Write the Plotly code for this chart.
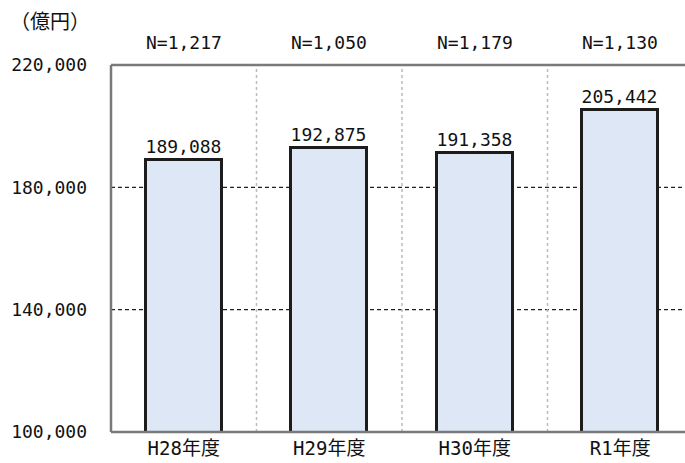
import plotly.graph_objects as go

# Fiscal years, totals (100 million yen) and respondent counts
years = ["H28年度", "H29年度", "H30年度", "R1年度"]
totals = [189088, 192875, 191358, 205442]
n_labels = ["N=1,217", "N=1,050", "N=1,179", "N=1,130"]
y_ticks = [100000, 140000, 180000, 220000]
y_tick_text = ["100,000", "140,000", "180,000", "220,000"]

mono = "DejaVu Sans Mono, Noto Sans CJK JP, sans-serif"

fig = go.Figure()
fig.add_trace(go.Bar(
    x=list(range(len(years))),
    y=totals,
    width=0.52,
    marker=dict(color="#dde7f5", line=dict(color="#1c1c1c", width=3)),
    texttemplate="%{y:,d}",
    textposition="outside",
    textfont=dict(family=mono, size=18, color="#111111"),
    cliponaxis=False,
))

shapes = []
# dashed horizontal guides at interior ticks
for t in y_ticks[1:-1]:
    shapes.append(dict(type="line", xref="paper", yref="y", x0=0, x1=1, y0=t, y1=t,
                       line=dict(color="#222222", width=1.2, dash="4px,3px"), layer="below"))
# dotted separators between categories
for i in range(len(years) - 1):
    shapes.append(dict(type="line", xref="x", yref="paper", x0=i + 0.5, x1=i + 0.5, y0=0, y1=1,
                       line=dict(color="#bbbbbb", width=1.5, dash="dot"), layer="below"))
# frame: top, left, bottom
for x0, x1, y0, y1 in [(0, 1, 1, 1), (0, 0, 0, 1), (0, 1, 0, 0)]:
    shapes.append(dict(type="line", xref="paper", yref="paper", x0=x0, x1=x1, y0=y0, y1=y1,
                       line=dict(color="#7a7a7a", width=2.5)))

annotations = []
for i, lab in enumerate(n_labels):
    annotations.append(dict(x=i, y=1, xref="x", yref="paper", text=lab, showarrow=False,
                            yanchor="bottom", yshift=10,
                            font=dict(family=mono, size=18, color="#111111")))
annotations.append(dict(x=0, y=1, xref="paper", yref="paper", text="（億円）", showarrow=False,
                        xanchor="right", yanchor="bottom", xshift=-19, yshift=28,
                        font=dict(family="Noto Sans CJK JP, sans-serif", size=20, color="#111111")))

fig.update_layout(
    width=685, height=463,
    margin=dict(l=111, r=0, t=65, b=31),
    paper_bgcolor="white", plot_bgcolor="white",
    showlegend=False,
    bargap=0,
    shapes=shapes,
    annotations=annotations,
    xaxis=dict(
        range=[-0.5, 3.445],
        tickvals=list(range(len(years))),
        ticktext=years,
        showgrid=False, zeroline=False, showline=False,
        tickfont=dict(family=mono, size=19, color="#111111"),
        ticks="", ticklabelstandoff=3,
    ),
    yaxis=dict(
        range=[100000, 220000],
        tickvals=y_ticks,
        ticktext=y_tick_text,
        showgrid=False, zeroline=False, showline=False,
        tickfont=dict(family=mono, size=18, color="#111111"),
        ticks="", ticklabelstandoff=23,
    ),
)

fig.write_html("out.html")
